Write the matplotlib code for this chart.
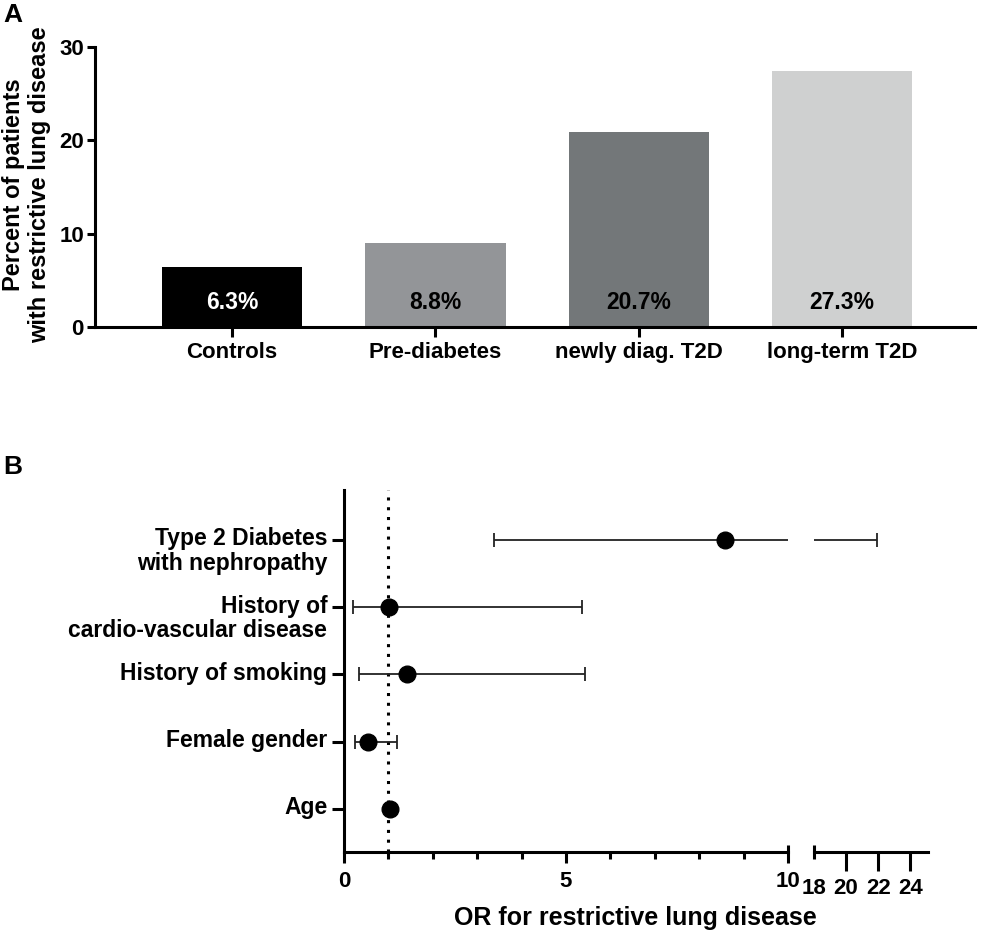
import matplotlib.pyplot as plt

plt.rcParams['font.family'] = ['Liberation Sans', 'DejaVu Sans']
plt.rcParams['font.weight'] = 'bold'

# Panel A data
groups = ['Controls', 'Pre-diabetes', 'newly diag. T2D', 'long-term T2D']
percent = [6.4, 9.0, 20.9, 27.4]
percent_text = ['6.3%', '8.8%', '20.7%', '27.3%']
bar_colors = ['#000000', '#939598', '#737779', '#cfd0d0']
text_colors = ['white', 'black', 'black', 'black']

# Panel B data (bottom to top)
factors = ['Age', 'Female gender', 'History of smoking',
           'History of\ncardio-vascular disease',
           'Type 2 Diabetes\nwith nephropathy']
odds = [1.03, 0.54, 1.42, 1.01, 8.58]
ci_low = [1.0, 0.25, 0.34, 0.2, 3.38]
ci_high = [1.06, 1.19, 5.43, 5.36, 21.9]

fig = plt.figure(figsize=(9.81, 9.41), dpi=100)
W, H = 981, 941
LW = 2.2

# ---------------- Panel A ----------------
axA = fig.add_axes([95 / W, 1 - 327 / H, 880 / W, 280 / H])
xpos = list(range(len(groups)))
axA.bar(xpos, percent, width=0.69, color=bar_colors)
for i, t in enumerate(percent_text):
    axA.text(xpos[i], 2.6, t, ha='center', va='center', color=text_colors[i],
             fontsize=16.5, fontweight='bold')
axA.set_xlim(-0.675, 3.655)
axA.set_ylim(0, 30)
axA.set_yticks([0, 10, 20, 30])
axA.set_xticks(xpos)
axA.set_xticklabels(groups)
for s in ['top', 'right']:
    axA.spines[s].set_visible(False)
for s in ['left', 'bottom']:
    axA.spines[s].set_linewidth(LW)
axA.tick_params(axis='y', length=6, width=LW, pad=2, labelsize=16)
axA.tick_params(axis='x', length=7, width=LW, pad=4, labelsize=16)
axA.set_ylabel('Percent of patients\nwith restrictive lung disease', fontsize=17,
               fontweight='bold', linespacing=1.15)
axA.yaxis.set_label_coords(-0.05, 0.51)

# ---------------- Panel B ----------------
bottom = 1 - 852 / H
height = 362 / H
axL = fig.add_axes([344 / W, bottom, 444 / W, height])
axR = fig.add_axes([814 / W, bottom, 114 / W, height])
ypos = list(range(len(factors)))
xerr = [[o - l for o, l in zip(odds, ci_low)], [h - o for o, h in zip(odds, ci_high)]]

for ax in (axL, axR):
    ax.errorbar(odds, ypos, xerr=xerr, fmt='o', color='black', ecolor='#222222',
                elinewidth=1.3, capsize=5, capthick=1.3, markersize=12)
    ax.set_ylim(-0.64, 4.74)
    for s in ['top', 'right']:
        ax.spines[s].set_visible(False)
    ax.spines['bottom'].set_linewidth(LW)

axL.axvline(1, color='black', lw=2.2, ls=(0, (1, 2.2)), zorder=0)
axL.set_xlim(0, 10)
axL.set_xticks([0, 5, 10])
axL.set_xticks([1, 2, 3, 4, 6, 7, 8, 9], minor=True)
axL.tick_params(axis='x', which='major', length=8, width=LW, pad=6, labelsize=16)
axL.tick_params(axis='x', which='minor', length=5, width=LW)
axL.spines['left'].set_linewidth(LW)
axL.set_yticks(ypos)
axL.set_yticklabels([])
axL.tick_params(axis='y', length=9, width=LW)
axL.plot([1, 1], [0, 0.018], transform=axL.transAxes, color='black', lw=LW,
         clip_on=False, solid_capstyle='butt')
for i, f in enumerate(factors):
    axL.annotate(f, xy=(0, ypos[i]), xycoords=('axes fraction', 'data'),
                 xytext=(-12, 9), textcoords='offset points', ha='right', va='top',
                 fontsize=16.5, fontweight='bold', linespacing=1.08,
                 multialignment='right')

axR.set_xlim(18, 25.1)
axR.spines['left'].set_visible(False)
axR.set_yticks([])
axR.set_xticks([20, 22, 24])
axR.set_xticks([18], minor=True)
axR.set_xticklabels(['18'], minor=True)
axR.tick_params(axis='x', which='major', length=14, width=LW, pad=5, labelsize=16)
axR.tick_params(axis='x', which='minor', direction='inout', length=10, width=LW,
                pad=14, labelsize=16)

fig.text(635 / W, 1 - 918 / H, 'OR for restrictive lung disease', ha='center',
         va='center', fontsize=18, fontweight='bold')
fig.text(3 / W, 1 - 3 / H, 'A', ha='left', va='top', fontsize=19, fontweight='bold')
fig.text(3 / W, 1 - 455 / H, 'B', ha='left', va='top', fontsize=19, fontweight='bold')

fig.savefig('out.png', dpi=100)
